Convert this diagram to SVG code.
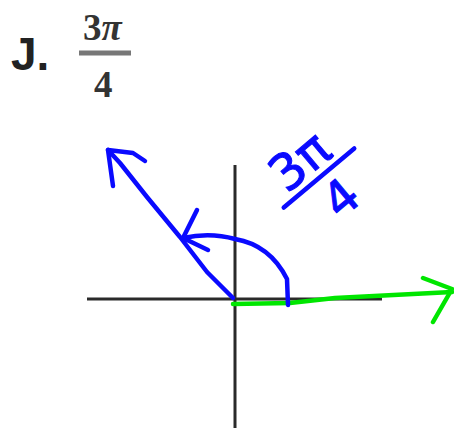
<svg xmlns="http://www.w3.org/2000/svg" width="454" height="430" viewBox="0 0 454 430">
<style>
.ax{stroke:#2a2a2a;stroke-width:3;fill:none}
.bl{stroke:#0a0aff;stroke-width:4.5;fill:none;stroke-linecap:round;stroke-linejoin:round}
.gr{stroke:#00e600;stroke-width:4.5;fill:none;stroke-linecap:round;stroke-linejoin:round}
.hw{font-family:"DejaVu Sans",sans-serif;fill:#0a0aff;stroke:#0a0aff;stroke-width:1}
.pr{font-family:"Liberation Serif",serif;fill:#333;font-weight:bold}
</style>
<rect width="454" height="430" fill="#fff"/>
<g id="title">
<text x="11" y="70" font-family="Liberation Sans,sans-serif" font-weight="bold" font-size="46" fill="#222">J.</text>
<text class="pr" x="83" y="40" font-size="37">3<tspan font-style="italic">π</tspan></text>
<line x1="79" y1="53" x2="131" y2="53" stroke="#777" stroke-width="5"/>
<text class="pr" x="94" y="97" font-size="37">4</text>
</g>
<g id="axes">
<line class="ax" x1="87" y1="299" x2="382" y2="299"/>
<line class="ax" x1="235" y1="165" x2="235" y2="428"/>
</g>
<g id="connectors">
<path class="gr" d="M233,304 L290,303 L335,298 L452,292"/>
<path class="gr" d="M423,278 L452,289 L433,322"/>
<path class="bl" d="M233,298 L207,272 L180,237 L147,197 L120,163 L108,150"/>
<path class="bl" d="M145,161 L133,153 L108,150 L113,186"/>
<path class="bl" d="M288,305 L287,279 Q270,245 235,239 Q210,232 183,238"/>
<path class="bl" d="M197,210 L183,238 L208,250"/>
</g>
<g id="label" transform="translate(319,178) rotate(-40)">
<text class="hw" x="-4" y="-8" font-size="50" text-anchor="middle">3π</text>
<line class="bl" x1="-46" y1="0" x2="46" y2="0"/>
<text class="hw" x="4" y="46" font-size="48" text-anchor="middle">4</text>
</g>
</svg>
